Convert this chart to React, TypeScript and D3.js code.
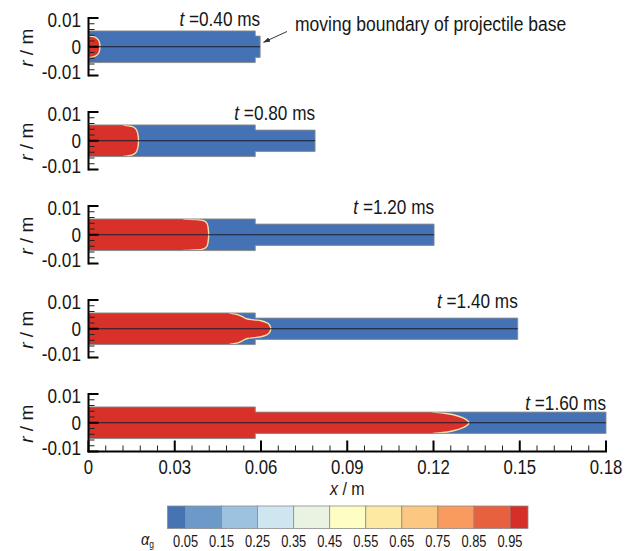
import React from 'react';
import * as d3 from 'd3';

const FONT = '"Liberation Sans", Arial, Helvetica, sans-serif';
const INK = '#161616';

// Snapshot times (ms) and projectile-base position at each time (m)
const timeLabels = ['0.40', '0.80', '1.20', '1.40', '1.60'];
const baseX = [0.0597, 0.0788, 0.1202, 0.1493, 0.18];

// Geometry of the chamber / barrel (m)
const chamberLength = 0.058;
const chamberRadius = 0.0055;
const barrelRadius = 0.0037;

// Gas-phase front (alpha_g ~ 1), upper half, as [r, x] pairs in metres
const front040: [number, number][] = [[0.0038, 0], [0.0035, 0.0017], [0.0028, 0.003], [0.0018, 0.0037], [0, 0.004]];
const front080: [number, number][] = [[0.0055, 0.0121], [0.005, 0.015], [0.0042, 0.0164], [0.003, 0.017], [0.0015, 0.0173], [0, 0.0174]];
const front120: [number, number][] = [[0.0055, 0.033], [0.0053, 0.0375], [0.0049, 0.04], [0.004, 0.0412], [0.0025, 0.0416], [0, 0.0418]];
const front140: [number, number][] = [[0.0055, 0.049], [0.005, 0.0515], [0.0042, 0.0535], [0.0034, 0.0553], [0.0031, 0.0575], [0.0028, 0.06], [0.0021, 0.062], [0.0011, 0.0631], [0, 0.0634]];
const front160: [number, number][] = [[0.0055, 0.1195], [0.0037, 0.1197], [0.0034, 0.1232], [0.0027, 0.1272], [0.0017, 0.1303], [0.0008, 0.1318], [0, 0.1323]];
const gasFronts = [front040, front080, front120, front140, front160];

// Axis ticks
const xTicks = [0, 0.03, 0.06, 0.09, 0.12, 0.15, 0.18];
const xTickLabels = ['0', '0.03', '0.06', '0.09', '0.12', '0.15', '0.18'];
const yTicks = [0.01, 0, -0.01];
const yTickLabels = ['0.01', '0', '-0.01'];

// Contour legend
const levels = [0.05, 0.15, 0.25, 0.35, 0.45, 0.55, 0.65, 0.75, 0.85, 0.95];
const levelLabels = ['0.05', '0.15', '0.25', '0.35', '0.45', '0.55', '0.65', '0.75', '0.85', '0.95'];
const levelColors = ['#4673b1', '#6d99c9', '#9cc2df', '#cfe6f1', '#eaf3e2', '#fefec4', '#fde9a2', '#fcc781', '#f99a5e', '#e8613f', '#d62f27'];

const LIQUID = '#4472b4';
const GAS = '#d8312a';

type TProps = {
  x: number; y: number; size: number; sx?: number; anchor?: 'start' | 'middle' | 'end';
  children: React.ReactNode;
};
const T = ({ x, y, size, sx = 0.86, anchor = 'start', children }: TProps) => (
  <text
    transform={`translate(${x},${y}) scale(${sx},1)`}
    textAnchor={anchor}
    fontFamily={FONT}
    fontSize={size}
    fill={INK}
  >
    {children}
  </text>
);

export default function App() {
  const x = d3.scaleLinear().domain([0, 0.18]).range([88.5, 606]);
  const panelH = 57.5;
  const top0 = 18;
  const gap = 94;

  const yMinor = d3.range(-5, 6).filter((k) => k % 5 !== 0).map((k) => k * 0.002);
  const xMinor = d3.range(0, 31).filter((k) => k % 5 !== 0).map((k) => k * 0.006);

  const legendX = d3.scaleLinear().domain([0, 1]).range([167.5, 528]);
  const legendEdges = [0, ...levels, 1];

  return (
    <svg
      width={625}
      height={551}
      style={{ position: 'absolute', left: 0, top: 0, background: '#fff' }}
    >
      <defs>
        <marker id="arrowHead" viewBox="0 0 10 10" refX="9" refY="5" markerWidth="7" markerHeight="7" orient="auto">
          <path d="M0,1.5 L10,5 L0,8.5 Z" fill="#333" />
        </marker>
      </defs>

      {timeLabels.map((tl, i) => {
        const top = top0 + i * gap;
        const y = d3.scaleLinear().domain([0.01, -0.01]).range([top, top + panelH]);
        const xb = baseX[i];

        const domainPath = [
          `M${x(0)},${y(chamberRadius)}`,
          `L${x(chamberLength)},${y(chamberRadius)}`,
          `L${x(chamberLength)},${y(barrelRadius)}`,
          `L${x(xb)},${y(barrelRadius)}`,
          `L${x(xb)},${y(-barrelRadius)}`,
          `L${x(chamberLength)},${y(-barrelRadius)}`,
          `L${x(chamberLength)},${y(-chamberRadius)}`,
          `L${x(0)},${y(-chamberRadius)}`,
          'Z',
        ].join('');

        const upper = gasFronts[i];
        const full: [number, number][] = [
          ...upper,
          ...upper.slice(0, -1).reverse().map(([r, xx]) => [-r, xx] as [number, number]),
        ];
        const frontLine = d3
          .line<[number, number]>()
          .x((d) => x(d[1]))
          .y((d) => y(d[0]))
          .curve(d3.curveMonotoneY);
        const frontD = frontLine(full) || '';
        const r0 = upper[0][0];
        const gasD = `M${x(0)},${y(r0)}L${frontD.slice(1)}L${x(0)},${y(-r0)}Z`;
        const clipId = `domainClip${i}`;
        const isLast = i === timeLabels.length - 1;

        return (
          <g key={tl}>
            <clipPath id={clipId}>
              <path d={domainPath} />
            </clipPath>
            <path d={domainPath} fill={LIQUID} />
            <g clipPath={`url(#${clipId})`}>
              <path d={gasD} fill={GAS} />
              <path d={frontD} fill="none" stroke="#f7dfa6" strokeWidth={1.4} />
            </g>
            <path d={domainPath} fill="none" stroke="#8a8a8a" strokeWidth={0.9} />
            {/* symmetry axis */}
            <line x1={x(0)} x2={x(xb)} y1={y(0)} y2={y(0)} stroke="#1c1c2c" strokeWidth={1} />

            {/* r axis */}
            <line x1={x(0)} x2={x(0)} y1={y(0.01) - 1} y2={y(-0.01) + 1} stroke="#000" strokeWidth={2} />
            {yTicks.map((v) => (
              <line key={v} x1={x(0)} x2={x(0) + 10} y1={y(v)} y2={y(v)} stroke="#000" strokeWidth={2} />
            ))}
            {yMinor.map((v) => (
              <line key={v} x1={x(0)} x2={x(0) + 6} y1={y(v)} y2={y(v)} stroke="#222" strokeWidth={1} />
            ))}
            {yTicks.map((v, k) => (
              <T key={v} x={81} y={y(v) + 7 + (v > 0 ? 2 : v < 0 ? -4 : 0)} size={20} anchor="end">
                {yTickLabels[k]}
              </T>
            ))}
            <text
              transform={`translate(33,${y(0) + 1}) rotate(-90)`}
              textAnchor="middle"
              fontFamily={FONT}
              fontSize={19}
              fill={INK}
            >
              <tspan fontStyle="italic">r</tspan> / m
            </text>

            {/* time label */}
            <T x={x(xb)} y={isLast ? y(barrelRadius) - 2 : y(barrelRadius) - 10} size={20} anchor="end">
              <tspan fontStyle="italic">t</tspan> =
              {tl} ms
            </T>

            {isLast && (
              <g>
                <line x1={x(0) - 1} x2={x(0.18) + 1} y1={y(-0.01)} y2={y(-0.01)} stroke="#000" strokeWidth={2} />
                {xTicks.map((v) => (
                  <line key={v} x1={x(v)} x2={x(v)} y1={y(-0.01)} y2={y(-0.01) - 11} stroke="#000" strokeWidth={2} />
                ))}
                {xMinor.map((v) => (
                  <line key={v} x1={x(v)} x2={x(v)} y1={y(-0.01)} y2={y(-0.01) - 6} stroke="#222" strokeWidth={1} />
                ))}
                {xTicks.map((v, k) => (
                  <T key={v} x={x(v)} y={474} size={19.5} anchor="middle">
                    {xTickLabels[k]}
                  </T>
                ))}
              </g>
            )}

            {i === 0 && (
              <g>
                <line
                  x1={287}
                  y1={31.5}
                  x2={x(xb) + 3.5}
                  y2={y(0) - 4.5}
                  stroke="#333"
                  strokeWidth={1}
                  markerEnd="url(#arrowHead)"
                />
                <T x={295} y={30.5} size={20} sx={0.875}>
                  moving boundary of projectile base
                </T>
              </g>
            )}
          </g>
        );
      })}

      {/* x axis title */}
      <T x={x(0.09)} y={495} size={18.5} sx={0.86} anchor="middle">
        <tspan fontStyle="italic">x</tspan> / m
      </T>

      {/* contour legend */}
      <g>
        {levelColors.map((c, k) => (
          <rect
            key={c}
            x={legendX(legendEdges[k])}
            y={506}
            width={legendX(legendEdges[k + 1]) - legendX(legendEdges[k])}
            height={22.5}
            fill={c}
            stroke="#8c8c8c"
            strokeWidth={0.8}
          />
        ))}
        {levels.map((v, k) => (
          <T key={v} x={legendX(v)} y={547} size={16.5} sx={0.78} anchor="middle">
            {levelLabels[k]}
          </T>
        ))}
        <T x={141} y={545} size={17} sx={0.85}>
          <tspan fontStyle="italic">α</tspan>
          <tspan fontSize={10} dy={3}>g</tspan>
        </T>
      </g>
    </svg>
  );
}
